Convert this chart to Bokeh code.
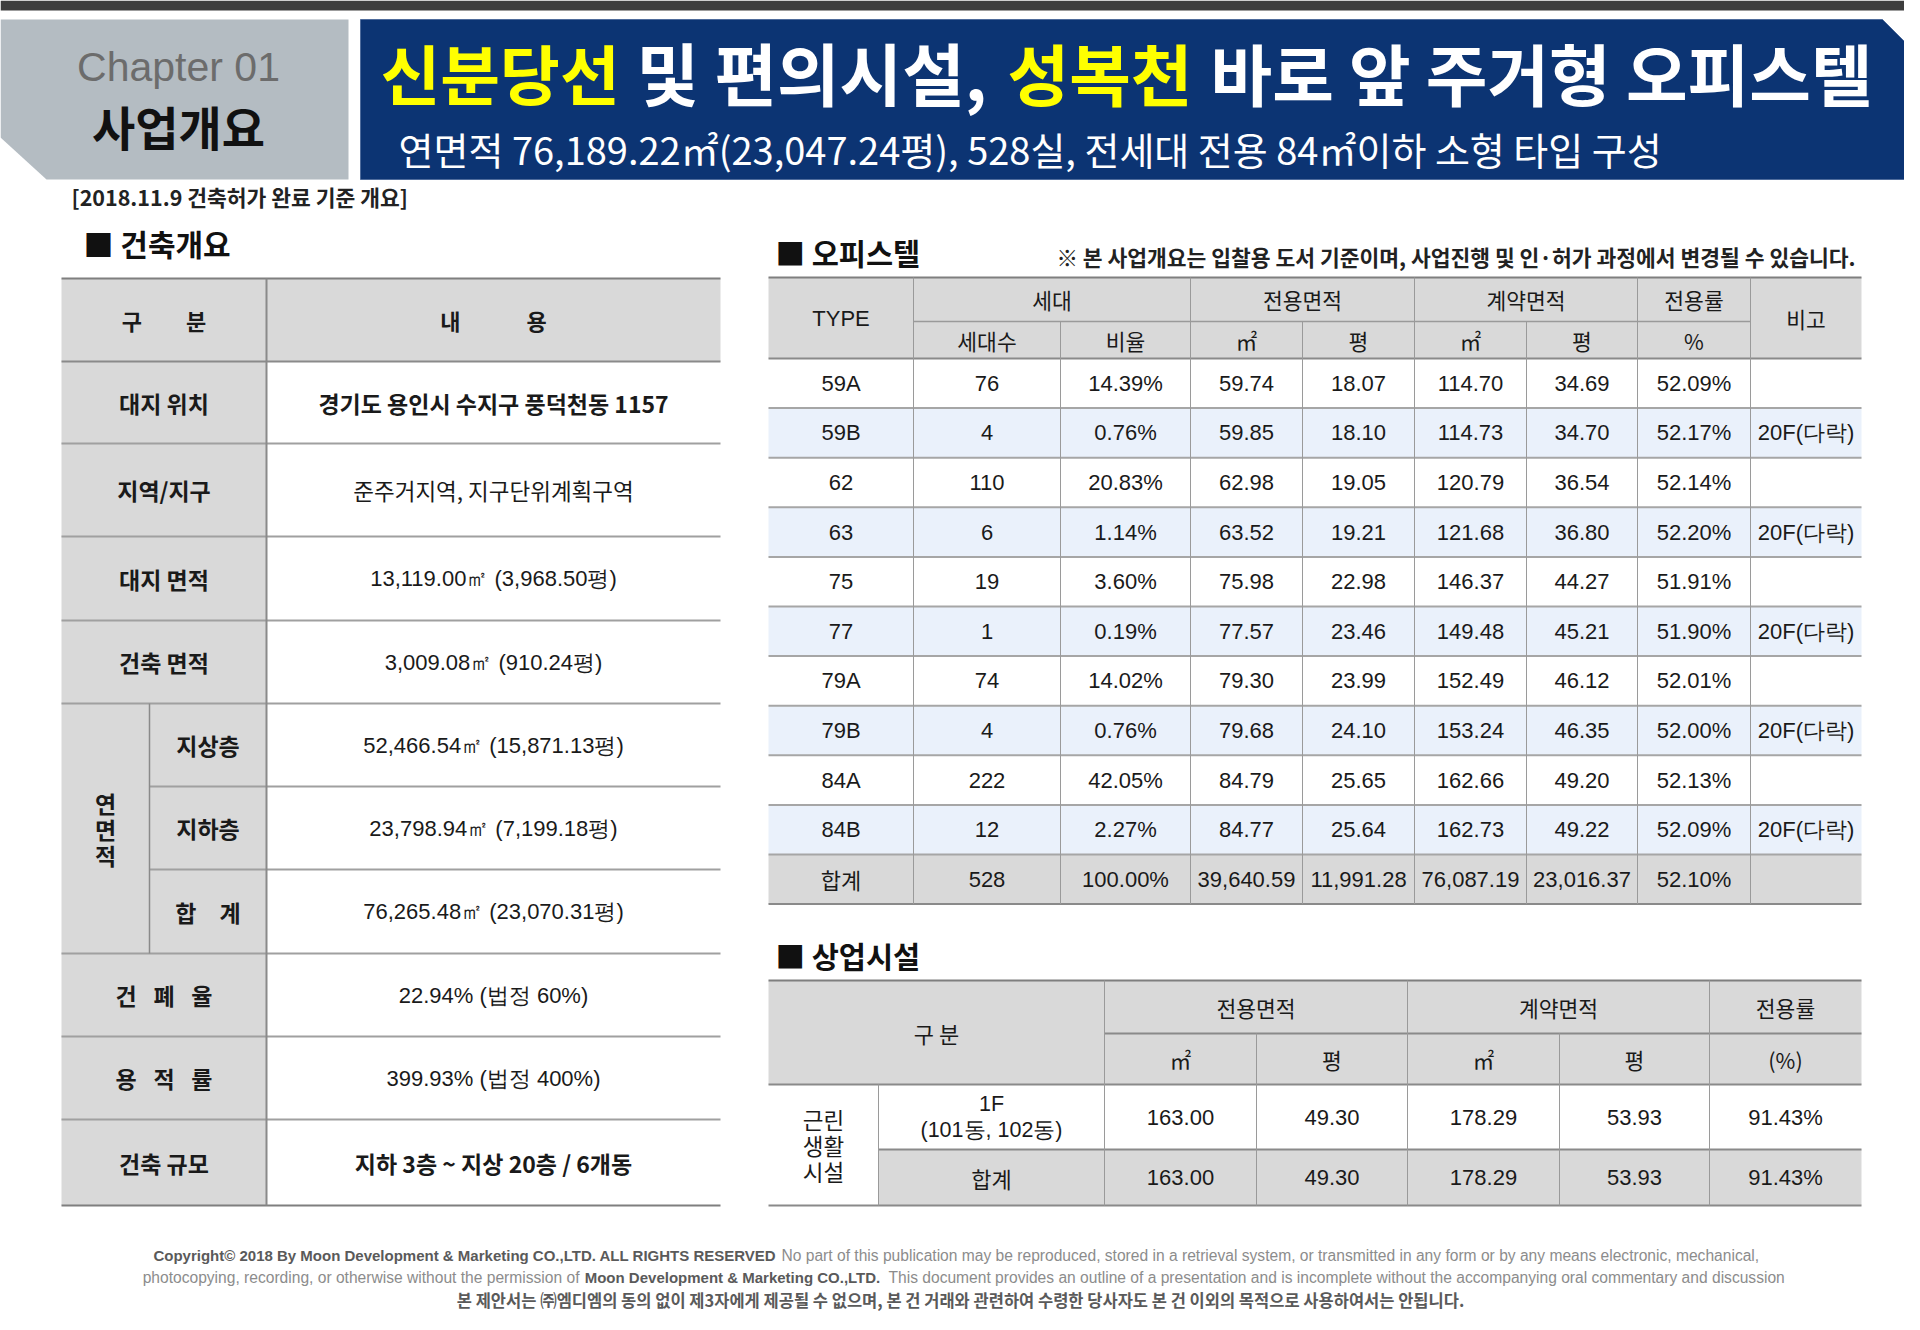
from bokeh.plotting import figure
from bokeh.models import Range1d, ColumnDataSource
from bokeh.core.properties import value
from bokeh.embed import file_html
from bokeh.resources import INLINE

KR = "Noto Sans CJK KR"
NUM = "Liberation Sans"

# ---------------- data ----------------
title_parts = ["신분당선", "및 편의시설,", "성복천", "바로 앞 주거형 오피스텔"]
title_colors = ["#ffff00", "#ffffff", "#ffff00", "#ffffff"]
subtitle = "연면적 76,189.22㎡(23,047.24평), 528실, 전세대 전용 84㎡이하 소형 타입 구성"
basis_note = "[2018.11.9 건축허가 완료 기준 개요]"

summary_header = ["구\u3000\u3000분", "내\u3000\u3000\u3000용"]
summary_labels = ["대지 위치", "지역/지구", "대지 면적", "건축 면적", "지상층", "지하층",
                  "합\u3000계", "건\u2002 폐\u2002 율", "용\u2002 적\u2002 률", "건축 규모"]
summary_values = ["경기도 용인시 수지구 풍덕천동 1157", "준주거지역, 지구단위계획구역",
                  "13,119.00㎡ (3,968.50평)", "3,009.08㎡ (910.24평)",
                  "52,466.54㎡ (15,871.13평)", "23,798.94㎡ (7,199.18평)",
                  "76,265.48㎡ (23,070.31평)", "22.94% (법정 60%)", "399.93% (법정 400%)",
                  "지하 3층 ~ 지상 20층 / 6개동"]
summary_group = ["연", "면", "적"]

office_types = ["59A", "59B", "62", "63", "75", "77", "79A", "79B", "84A", "84B", "합계"]
office_units = [76, 4, 110, 6, 19, 1, 74, 4, 222, 12, 528]
office_share = [14.39, 0.76, 20.83, 1.14, 3.60, 0.19, 14.02, 0.76, 42.05, 2.27, 100.00]
office_excl_m2 = [59.74, 59.85, 62.98, 63.52, 75.98, 77.57, 79.30, 79.68, 84.79, 84.77, 39640.59]
office_excl_py = [18.07, 18.10, 19.05, 19.21, 22.98, 23.46, 23.99, 24.10, 25.65, 25.64, 11991.28]
office_contract_m2 = [114.70, 114.73, 120.79, 121.68, 146.37, 149.48, 152.49, 153.24, 162.66, 162.73, 76087.19]
office_contract_py = [34.69, 34.70, 36.54, 36.80, 44.27, 45.21, 46.12, 46.35, 49.20, 49.22, 23016.37]
office_rate = [52.09, 52.17, 52.14, 52.20, 51.91, 51.90, 52.01, 52.00, 52.13, 52.09, 52.10]
office_note = ["", "20F(다락)", "", "20F(다락)", "", "20F(다락)", "", "20F(다락)", "", "20F(다락)", ""]
office_head_top = ["세대", "전용면적", "계약면적", "전용률"]
office_head_sub = ["세대수", "비율", "㎡", "평", "㎡", "평", "%"]

retail_group = ["근린", "생활", "시설"]
retail_rows = [["1F", "(101동, 102동)"], ["합계"]]
retail_excl_m2 = [163.00, 163.00]
retail_excl_py = [49.30, 49.30]
retail_contract_m2 = [178.29, 178.29]
retail_contract_py = [53.93, 53.93]
retail_rate = [91.43, 91.43]
retail_head_top = ["전용면적", "계약면적", "전용률"]
retail_head_sub = ["㎡", "평", "㎡", "평", "(%)"]

disclaimer = "※ 본 사업개요는 입찰용 도서 기준이며, 사업진행 및 인·허가 과정에서 변경될 수 있습니다."
footer1 = ["Copyright© 2018 By Moon Development & Marketing CO.,LTD. ALL RIGHTS RESERVED",
           "No part of this publication may be reproduced, stored in a retrieval system, or transmitted in any form or by any means electronic, mechanical,"]
footer2 = ["photocopying, recording, or otherwise without the permission of",
           "Moon Development & Marketing CO.,LTD.",
           "This document provides an outline of a presentation and is incomplete without the accompanying oral commentary and discussion"]
footer3 = "본 제안서는 ㈜엠디엠의 동의 없이 제3자에게 제공될 수 없으며, 본 건 거래와 관련하여 수령한 당사자도 본 건 이외의 목적으로 사용하여서는 안됩니다."

# ---------------- figure ----------------
p = figure(width=1904, height=1314, x_range=Range1d(0, 1904), y_range=Range1d(1314, 0),
           output_backend="svg", toolbar_location=None, min_border=0,
           x_axis_location=None, y_axis_location=None)
p.grid.visible = False
p.outline_line_color = None
p.background_fill_color = "white"
p.border_fill_color = "white"


def txt(xs, ys, texts, size, color="#1a1a1a", font=KR, style="normal", align="center",
        baseline="middle", **kw):
    src = ColumnDataSource(dict(x=list(xs), y=list(ys), t=list(texts)))
    p.text(x="x", y="y", text="t", source=src, text_font=value(font),
           text_font_size=value(f"{size}px"), text_color=color, text_font_style=style,
           text_align=align, text_baseline=baseline, **kw)


def rect(l, r, t, b, color):
    p.quad(left=l, right=r, top=t, bottom=b, fill_color=color, line_color=None)


def hline(x0, x1, y, color="#9a9a9a", w=2):
    p.segment(x0=x0, x1=x1, y0=y, y1=y, line_color=color, line_width=w)


def vline(x, y0, y1, color="#9a9a9a", w=1):
    p.segment(x0=x, x1=x, y0=y0, y1=y1, line_color=color, line_width=w)


mid = lambda a, b: (a + b) / 2

# ---------------- header band ----------------
rect(0, 1920, 0, 10, "#3d3d3d")
p.patch([0, 348, 348, 46, 0], [19, 19, 179, 179, 137], fill_color="#b4bcc2", line_color=None)
p.patch([360, 1882, 1920, 1920, 360], [19, 19, 57, 179, 179], fill_color="#0c3473",
        line_color="#4f6c9c", line_width=1)
txt([178], [66], ["Chapter 01"], 41, color="#6c6c6c", font=NUM)
txt([178], [125], ["사업개요"], 47, color="#111111", style="bold")

title_x = [380, 636, 1007, 1210]
title_sizes = [65, 68, 67, 67]
for tx, part, col, fs in zip(title_x, title_parts, title_colors, title_sizes):
    txt([tx], [71], [part], fs, color=col, style="bold", align="left")
txt([398], [148], [subtitle], 38, color="white", align="left")

txt([71], [196], [basis_note], 21.5, color="#222222", style="bold", align="left")

# ---------------- section titles ----------------
txt([83], [242], ["■ 건축개요"], 30, color="#111111", style="bold", align="left")
txt([775], [251], ["■ 오피스텔"], 29.5, color="#111111", style="bold", align="left")
txt([775], [954], ["■ 상업시설"], 29.5, color="#111111", style="bold", align="left")
txt([1855], [256], [disclaimer], 21.5, color="#222222", style="bold", align="right")

# ---------------- left summary table ----------------
L0, LS, L1, L2 = 61, 149, 266, 720
ry = [278, 361, 443, 536, 620, 703, 786, 869, 953, 1036, 1119, 1205]
rect(L0, L1, ry[0], ry[-1], "#d9d9d9")
rect(L1, L2, ry[0], ry[1], "#d9d9d9")
hline(L0, L2, ry[0], "#7f7f7f", 2)
hline(L0, L2, ry[1], "#8a8a8a", 2)
for i in range(2, len(ry) - 1):
    if ry[i] in (786, 869):
        hline(LS, L2, ry[i], "#a0a0a0", 2)
    else:
        hline(L0, L2, ry[i], "#a0a0a0", 2)
hline(L0, L2, ry[-1], "#7f7f7f", 2)
vline(L1, ry[0], ry[-1], "#8a8a8a", 2)
vline(LS, ry[5], ry[8], "#8a8a8a", 1.5)

txt([mid(L0, L1), mid(L1, L2)], [mid(ry[0], ry[1])] * 2, summary_header, 22, style="bold")
lab_x, lab_y = [], []
for i, lab in enumerate(summary_labels):
    lab_x.append(mid(LS, L1) if 4 <= i <= 6 else mid(L0, L1))
    lab_y.append(mid(ry[i + 1], ry[i + 2]))
txt(lab_x, lab_y, summary_labels, 23, style="bold")
txt([mid(L0, LS)] * 3, [mid(ry[5], ry[8]) + d for d in (-26, 0, 26)], summary_group, 23,
    style="bold")

val_y = [mid(ry[i + 1], ry[i + 2]) for i in range(len(summary_values))]
txt([mid(L1, L2)] * 2, [val_y[0], val_y[9]], [summary_values[0], summary_values[9]], 23,
    style="bold")
txt([mid(L1, L2)], [val_y[1]], [summary_values[1]], 22.5)
num_idx = [2, 3, 4, 5, 6, 7, 8]
txt([mid(L1, L2)] * len(num_idx), [val_y[i] for i in num_idx],
    [summary_values[i] for i in num_idx], 22, font=NUM)

# ---------------- office table ----------------
cx = [768, 913, 1060, 1190, 1302, 1414, 1526, 1637, 1750, 1861]
H0, HM, H1 = 277, 321, 358
RH = 49.6
n = len(office_types)
row_edges = [H1 + RH * i for i in range(n + 1)]
rect(cx[0], cx[-1], H0, H1, "#d9d9d9")
for i in range(n):
    if i == n - 1:
        col = "#d9d9d9"
    elif i % 2 == 1:
        col = "#eaf1fb"
    else:
        col = "#ffffff"
    rect(cx[0], cx[-1], row_edges[i], row_edges[i + 1], col)

hline(cx[0], cx[-1], H0, "#7f7f7f", 2)
hline(cx[1], cx[8], HM, "#9a9a9a", 1.5)
hline(cx[0], cx[-1], H1, "#8a8a8a", 2)
for e in row_edges[1:-1]:
    hline(cx[0], cx[-1], e, "#a6a6a6", 2)
hline(cx[0], cx[-1], row_edges[-1], "#8a8a8a", 2)
for j in range(1, 9):
    top = HM if j in (2, 4, 6) else H0
    vline(cx[j], top, row_edges[-1], "#9a9a9a", 1)

txt([mid(cx[0], cx[1])], [mid(H0, H1)], ["TYPE"], 22, font=NUM)
txt([mid(cx[8], cx[9])], [mid(H0, H1)], ["비고"], 21.5)
txt([mid(cx[1], cx[3]), mid(cx[3], cx[5]), mid(cx[5], cx[7]), mid(cx[7], cx[8])],
    [mid(H0, HM)] * 4, office_head_top, 21.5)
txt([mid(cx[j], cx[j + 1]) for j in range(1, 8)], [mid(HM, H1)] * 7, office_head_sub, 21.5)

rows_y = [mid(row_edges[i], row_edges[i + 1]) for i in range(n)]
txt([mid(cx[0], cx[1])] * (n - 1), rows_y[:-1], office_types[:-1], 22, font=NUM)
txt([mid(cx[0], cx[1])], rows_y[-1:], office_types[-1:], 22)
cols = [
    [f"{v}" for v in office_units],
    [f"{v:.2f}%" for v in office_share],
    [f"{v:,.2f}" for v in office_excl_m2],
    [f"{v:,.2f}" for v in office_excl_py],
    [f"{v:,.2f}" for v in office_contract_m2],
    [f"{v:,.2f}" for v in office_contract_py],
    [f"{v:.2f}%" for v in office_rate],
]
for j, colv in enumerate(cols):
    txt([mid(cx[j + 1], cx[j + 2])] * n, rows_y, colv, 22, font=NUM)
note_idx = [i for i, v in enumerate(office_note) if v]
txt([mid(cx[8], cx[9])] * len(note_idx), [rows_y[i] for i in note_idx],
    [office_note[i] for i in note_idx], 22, font=NUM)

# ---------------- retail table ----------------
rx = [768, 878, 1104, 1256, 1407, 1559, 1709, 1861]
T0, TM, T1, T2, T3 = 980, 1033, 1084, 1149, 1205
rect(rx[0], rx[-1], T0, T1, "#d9d9d9")
rect(rx[1], rx[-1], T2, T3, "#d9d9d9")
hline(rx[0], rx[-1], T0, "#7f7f7f", 2)
hline(rx[2], rx[-1], TM, "#8a8a8a", 2)
hline(rx[0], rx[-1], T1, "#8a8a8a", 2)
hline(rx[1], rx[-1], T2, "#8a8a8a", 2)
hline(rx[0], rx[-1], T3, "#8a8a8a", 2)
vline(rx[1], T1, T3, "#9a9a9a", 1)
for j in (2, 4, 6):
    vline(rx[j], T0, T3, "#9a9a9a", 1)
for j in (3, 5):
    vline(rx[j], TM, T3, "#9a9a9a", 1)

txt([mid(rx[0], rx[2])], [mid(T0, T1)], ["구 분"], 22)
txt([mid(rx[2], rx[4]), mid(rx[4], rx[6]), mid(rx[6], rx[7])], [mid(T0, TM)] * 3,
    retail_head_top, 21.5)
txt([mid(rx[j], rx[j + 1]) for j in range(2, 7)], [mid(TM, T1)] * 5, retail_head_sub, 21.5)
txt([mid(rx[0], rx[1])] * 3, [mid(T1, T3) + d for d in (-26, 0, 26)], retail_group, 22.5)
txt([mid(rx[1], rx[2])] * 2, [mid(T1, T2) - 13, mid(T1, T2) + 13], retail_rows[0], 21.5,
    font=NUM)
txt([mid(rx[1], rx[2])], [mid(T2, T3)], retail_rows[1], 22)
ryc = [mid(T1, T2), mid(T2, T3)]
rcols = [
    [f"{v:,.2f}" for v in retail_excl_m2],
    [f"{v:,.2f}" for v in retail_excl_py],
    [f"{v:,.2f}" for v in retail_contract_m2],
    [f"{v:,.2f}" for v in retail_contract_py],
    [f"{v:.2f}%" for v in retail_rate],
]
for j, colv in enumerate(rcols):
    txt([mid(rx[j + 2], rx[j + 3])] * 2, ryc, colv, 22, font=NUM)

# ---------------- footer ----------------
FB, FR = 15, 15.6
txt([776], [1255], [footer1[0]], FB, color="#5a5a5a", font=NUM, style="bold", align="right")
txt([781], [1255], [footer1[1]], FR, color="#8c8c8c", font=NUM, align="left")
txt([579], [1277], [footer2[0]], FR, color="#8c8c8c", font=NUM, align="right")
txt([732], [1277], [footer2[1]], FB, color="#5a5a5a", font=NUM, style="bold")
txt([888], [1277], [footer2[2]], FR, color="#8c8c8c", font=NUM, align="left")
txt([960], [1299], [footer3], 16.5, color="#5a5a5a", style="bold")

open("out.html", "w").write(file_html(p, INLINE))
